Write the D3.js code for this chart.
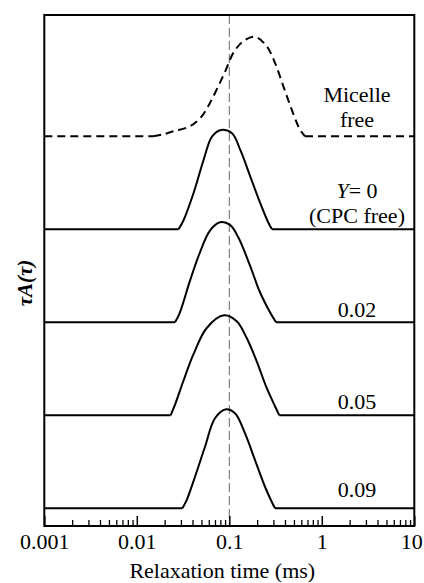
<!DOCTYPE html>
<html lang="en">
<head>
<meta charset="UTF-8">
<title>Relaxation time distribution</title>
<style>
  body { margin: 0; background: #fff; }
</style>
</head>
<body>
<script src="https://d3js.org/d3.v7.min.js"></script>
<div id="chart"></div>
<script>
// DATA (tau in ms, heights in units of the curve spacing)
const tickValues = [0.001, 0.01, 0.1, 1, 10]
const tickLabels = ["0.001", "0.01", "0.1", "1", "10"]

const micelleT = [0.015, 0.0192, 0.0248, 0.0376, 0.0503, 0.0618, 0.076, 0.0921, 0.1105, 0.1416, 0.1897, 0.2537, 0.312, 0.3837, 0.473, 0.581, 0.658]
const micelleA = [0, 0.02, 0.054, 0.108, 0.215, 0.359, 0.538, 0.717, 0.897, 1.022, 1.069, 0.968, 0.789, 0.538, 0.287, 0.072, 0]

const y0T = [0.0283, 0.0321, 0.0411, 0.0527, 0.065, 0.0813, 0.107, 0.1315, 0.1687, 0.2163, 0.266, 0.2896]
const y0A = [0, 0.10, 0.39, 0.745, 0.997, 1.068, 1.032, 0.853, 0.567, 0.28, 0.065, 0]

const y002T = [0.0259, 0.0293, 0.0376, 0.0482, 0.0618, 0.0793, 0.1018, 0.125, 0.1675, 0.2147, 0.2755, 0.32]
const y002A = [0, 0.108, 0.448, 0.753, 0.986, 1.075, 1.047, 0.914, 0.61, 0.323, 0.108, 0]

const y005T = [0.0232, 0.0259, 0.0318, 0.0408, 0.057, 0.0877, 0.1202, 0.1542, 0.1978, 0.2537, 0.312, 0.3474]
const y005A = [0, 0.114, 0.366, 0.652, 0.939, 1.075, 1.011, 0.831, 0.581, 0.294, 0.097, 0]

const y009T = [0.0311, 0.0346, 0.0426, 0.0546, 0.07, 0.0921, 0.1153, 0.1479, 0.1897, 0.2432, 0.2872, 0.312]
const y009A = [0, 0.089, 0.34, 0.662, 0.968, 1.065, 1.022, 0.806, 0.519, 0.232, 0.071, 0]

const offsets = [4, 3, 2, 1, 0]   // vertical stacking of the curves

const FONT = '"Liberation Serif", "Times New Roman", Times, "DejaVu Serif", serif'

// SIZES
const W = 424, H = 583
const MARGIN = { LEFT: 44.3, RIGHT: 9.7, TOP: 15, BOTTOM: 57 }
const WIDTH = W - MARGIN.LEFT - MARGIN.RIGHT
const HEIGHT = H - MARGIN.TOP - MARGIN.BOTTOM

const svg = d3.select("#chart").append("svg")
    .attr("width", W)
    .attr("height", H)
    .attr("font-family", FONT)
const g = svg.append("g")
    .attr("transform", `translate(${MARGIN.LEFT},${MARGIN.TOP})`)

const x = d3.scaleLog()
    .domain([0.001, 10])
    .range([0, WIDTH])
const y = d3.scaleLinear()
    .domain([-0.19, 5.304])
    .range([HEIGHT, 0])

// vertical guide at 0.1 ms
g.append("line")
    .attr("x1", x(0.1)).attr("x2", x(0.1))
    .attr("y1", 0).attr("y2", HEIGHT)
    .attr("stroke", "#666")
    .attr("stroke-width", 1)
    .attr("stroke-dasharray", "9,4")

const bump = d3.line()
    .x(d => x(d[0]))
    .y(d => y(d[1]))
    .curve(d3.curveCatmullRom.alpha(0.5))
const flat = d3.line()
    .x(d => x(d[0]))
    .y(d => y(d[1]))

const series = [
    { t: micelleT, a: micelleA, dash: "8,5" },
    { t: y0T, a: y0A },
    { t: y002T, a: y002A },
    { t: y005T, a: y005A },
    { t: y009T, a: y009A }
]

series.forEach((s, i) => {
    const off = offsets[i]
    const pts = s.t.map((t, j) => [t, s.a[j] + off])
    const n = pts.length
    const pieces = [
        flat([[0.001, off], pts[0]]),
        bump(pts),
        flat([pts[n - 1], [10, off]])
    ]
    pieces.forEach(d => g.append("path")
        .attr("d", d)
        .attr("fill", "none")
        .attr("stroke", "#000")
        .attr("stroke-width", 2)
        .attr("stroke-linejoin", "round")
        .attr("stroke-dasharray", s.dash || null))
})

// frame
g.append("rect")
    .attr("width", WIDTH).attr("height", HEIGHT)
    .attr("fill", "none")
    .attr("stroke", "#000")
    .attr("stroke-width", 2)

// ticks (inside, bottom)
const minors = []
for (let e = -3; e < 1; e++) {
    for (let m = 2; m <= 9; m++) minors.push(m * Math.pow(10, e))
}
g.append("g")
    .attr("transform", `translate(0,${HEIGHT})`)
    .call(d3.axisBottom(x).tickValues(minors).tickSize(-6).tickFormat(""))
    .call(a => a.select(".domain").remove())
    .call(a => a.selectAll("line").attr("stroke-width", 1.3))

const xAxis = g.append("g")
    .attr("transform", `translate(0,${HEIGHT})`)
    .call(d3.axisBottom(x).tickValues(tickValues).tickSize(-10)
        .tickFormat((d, i) => tickLabels[i]))
xAxis.attr("font-family", FONT).attr("font-size", 22)
xAxis.select(".domain").remove()
xAxis.selectAll("line").attr("stroke-width", 1.5)
xAxis.selectAll("text")
    .attr("y", 23).attr("dy", 0)
    .attr("fill", "#000")
// last label sits against the right edge of the picture
xAxis.selectAll("text").filter((d, i, n) => i === n.length - 1)
    .attr("text-anchor", "end")
    .attr("x", 8)

// axis titles
g.append("text")
    .attr("x", WIDTH / 2 - 7)
    .attr("y", HEIGHT + 52)
    .attr("text-anchor", "middle")
    .attr("font-size", 22)
    .text("Relaxation time (ms)")

svg.append("text")
    .attr("transform", "translate(32,283) rotate(-90)")
    .attr("text-anchor", "middle")
    .attr("font-size", 21)
    .attr("font-weight", "bold")
    .attr("font-style", "italic")
    .text("τA(τ)")

// curve labels
const lx = 357 - MARGIN.LEFT
const lab = (txt, yy) => g.append("text")
    .attr("x", lx).attr("y", yy - MARGIN.TOP)
    .attr("text-anchor", "middle")
    .attr("font-size", 22)
    .text(txt)
lab("Micelle", 102)
lab("free", 127)
const yl = g.append("text")
    .attr("x", lx).attr("y", 198 - MARGIN.TOP)
    .attr("text-anchor", "middle")
    .attr("font-size", 22)
yl.append("tspan").attr("font-style", "italic").text("Y")
yl.append("tspan").text("= 0")
lab("(CPC free)", 223)
lab("0.02", 317)
lab("0.05", 409)
lab("0.09", 497)
</script>
</body>
</html>
